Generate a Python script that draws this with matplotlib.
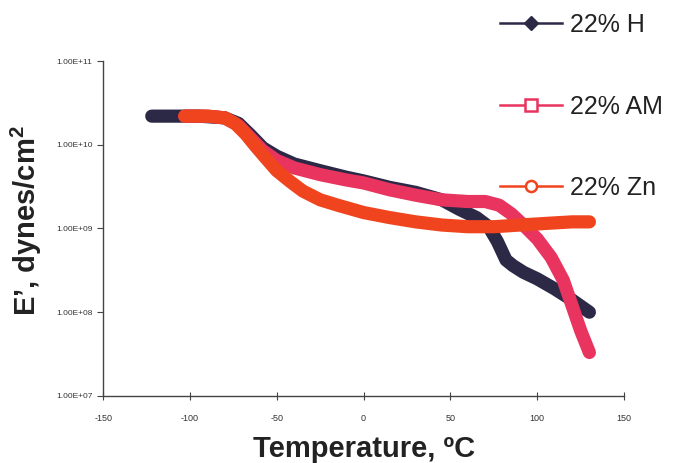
import matplotlib
matplotlib.use("Agg")
import matplotlib.pyplot as plt
from matplotlib.lines import Line2D

plt.rcParams['font.family'] = ['Liberation Sans', 'DejaVu Sans']
plt.rcParams['axes.unicode_minus'] = False
plt.rcParams['mathtext.fontset'] = 'custom'
plt.rcParams['mathtext.rm'] = 'Liberation Sans:bold'

# ── Data ───────────────────────────────────────────────────────────────────────
temp_h = [-122, -110, -95, -80, -72, -65, -58, -50, -40, -25, -10, 0, 15, 30,
          45, 55, 65, 72, 77, 82, 86, 92, 100, 110, 120, 130]
mod_h = [2.2e10, 2.2e10, 2.2e10, 2.1e10, 1.8e10, 1.3e10, 9.2e9, 7.3e9, 5.9e9,
         4.9e9, 4.1e9, 3.7e9, 3.1e9, 2.7e9, 2.2e9, 1.7e9, 1.35e9, 1.05e9, 7.0e8,
         4.2e8, 3.6e8, 3.0e8, 2.5e8, 1.9e8, 1.4e8, 1.0e8]

temp_am = [-103, -90, -80, -72, -65, -58, -50, -40, -25, -10, 0, 15, 30, 45,
           60, 70, 78, 85, 92, 100, 108, 115, 120, 125, 130]
mod_am = [2.2e10, 2.2e10, 2.1e10, 1.7e10, 1.2e10, 8.5e9, 6.5e9, 5.3e9, 4.4e9,
          3.8e9, 3.5e9, 2.9e9, 2.5e9, 2.2e9, 2.1e9, 2.1e9, 1.9e9, 1.5e9, 1.1e9,
          7.5e8, 4.5e8, 2.4e8, 1.2e8, 6.0e7, 3.3e7]

temp_zn = [-103, -90, -80, -74, -68, -62, -56, -50, -42, -35, -25, -15, 0, 15,
           30, 45, 60, 75, 90, 105, 120, 130]
mod_zn = [2.2e10, 2.2e10, 2.1e10, 1.8e10, 1.35e10, 9.5e9, 6.8e9, 4.9e9, 3.6e9,
          2.8e9, 2.2e9, 1.9e9, 1.55e9, 1.35e9, 1.2e9, 1.1e9, 1.05e9, 1.05e9,
          1.1e9, 1.15e9, 1.2e9, 1.2e9]

series_labels = ["22% H", "22% AM", "22% Zn"]
y_ticks = [1e7, 1e8, 1e9, 1e10, 1e11]
y_tick_labels = ["1.00E+07", "1.00E+08", "1.00E+09", "1.00E+10", "1.00E+11"]
x_ticks = [-150, -100, -50, 0, 50, 100, 150]

c_h = "#2c2946"
c_am = "#e8345f"
c_zn = "#f0441f"

# ── Figure ─────────────────────────────────────────────────────────────────────
fig = plt.figure(figsize=(6.74, 4.63), dpi=100)
ax = fig.add_axes([0.153, 0.145, 0.773, 0.723])

band = dict(linewidth=9.5, solid_capstyle="round", solid_joinstyle="round")
ax.plot(temp_h, mod_h, color=c_h, **band)
ax.plot(temp_am, mod_am, color=c_am, **band)
ax.plot(temp_zn, mod_zn, color=c_zn, **band)

ax.set_yscale("log")
ax.set_xlim(-150, 150)
ax.set_ylim(1e7, 1e11)
ax.set_yticks(y_ticks)
ax.set_yticklabels(y_tick_labels)
ax.minorticks_off()
ax.set_xticks(x_ticks)
ax.tick_params(axis="y", labelsize=6, length=4, direction="out", colors="#444444")
ax.tick_params(axis="x", labelsize=6.5, length=6, direction="inout", colors="#444444", pad=10)
for t in ax.get_xticklabels() + ax.get_yticklabels():
    t.set_color("#333333")

for s in ["top", "right"]:
    ax.spines[s].set_visible(False)
for s in ["left", "bottom"]:
    ax.spines[s].set_color("#444444")
    ax.spines[s].set_linewidth(1.0)

ax.set_xlabel("Temperature, ºC", fontsize=21, fontweight="bold", color="#222222")
ax.xaxis.set_label_coords(0.5, -0.118)
ax.set_ylabel("E’, dynes/cm$\\mathregular{^2}$", fontsize=21, fontweight="bold",
              color="#222222")
ax.yaxis.set_label_coords(-0.113, 0.525)

# legend outside the axes, widely spaced
handles = [
    Line2D([], [], color=c_h, lw=1.8, marker="D", markersize=7,
           markerfacecolor=c_h, markeredgecolor=c_h),
    Line2D([], [], color=c_am, lw=1.8, marker="s", markersize=9,
           markerfacecolor="white", markeredgecolor=c_am, markeredgewidth=1.8),
    Line2D([], [], color=c_zn, lw=1.8, marker="o", markersize=8,
           markerfacecolor="white", markeredgecolor=c_zn, markeredgewidth=1.8),
]
fig.legend(handles, series_labels, loc="upper left", bbox_to_anchor=(0.708, 1.02),
           frameon=False, fontsize=18, handlelength=2.5, handletextpad=0.3,
           labelspacing=2.3, labelcolor="#222222")

fig.savefig("out.png", dpi=100)
